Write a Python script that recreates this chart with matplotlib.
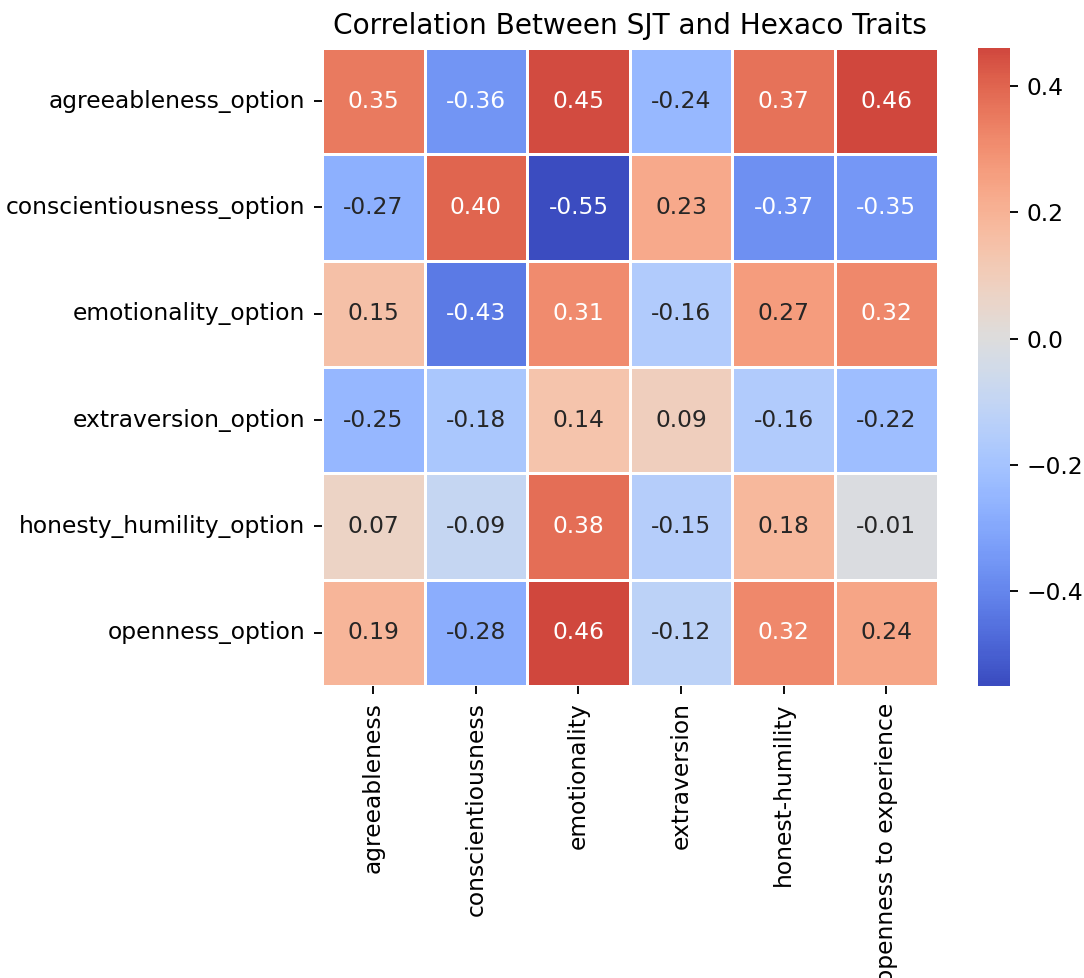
import numpy as np
import matplotlib
matplotlib.use("Agg")
import matplotlib.pyplot as plt
import seaborn as sns

rows = ["agreeableness_option", "conscientiousness_option", "emotionality_option",
        "extraversion_option", "honesty_humility_option", "openness_option"]
cols = ["agreeableness", "conscientiousness", "emotionality",
        "extraversion", "honest-humility", "openness to experience"]

agree = [0.35, -0.36, 0.45, -0.24, 0.37, 0.46]
consc = [-0.27, 0.40, -0.55, 0.23, -0.37, -0.35]
emot = [0.15, -0.43, 0.31, -0.16, 0.27, 0.32]
extra = [-0.25, -0.18, 0.14, 0.09, -0.16, -0.22]
honesty = [0.07, -0.09, 0.38, -0.15, 0.18, -0.01]
openness = [0.19, -0.28, 0.46, -0.12, 0.32, 0.24]

corr = np.array([agree, consc, emot, extra, honesty, openness])

dpi = 168
fig = plt.figure(figsize=(1084 / dpi, 978 / dpi), dpi=dpi)
ax = fig.add_axes([0.297, 0.2986, 0.568, 0.6524])
cax = fig.add_axes([0.902, 0.2986, 0.0295, 0.6524])

sns.heatmap(corr, annot=True, fmt=".2f", cmap="coolwarm", center=0, linewidths=0.5,
            linecolor="white", xticklabels=cols, yticklabels=rows,
            ax=ax, cbar_ax=cax)
ax.set_title("Correlation Between SJT and Hexaco Traits")
ax.tick_params(axis="x", rotation=90)
ax.tick_params(axis="y", rotation=0)

fig.savefig("out.png", dpi=dpi)
